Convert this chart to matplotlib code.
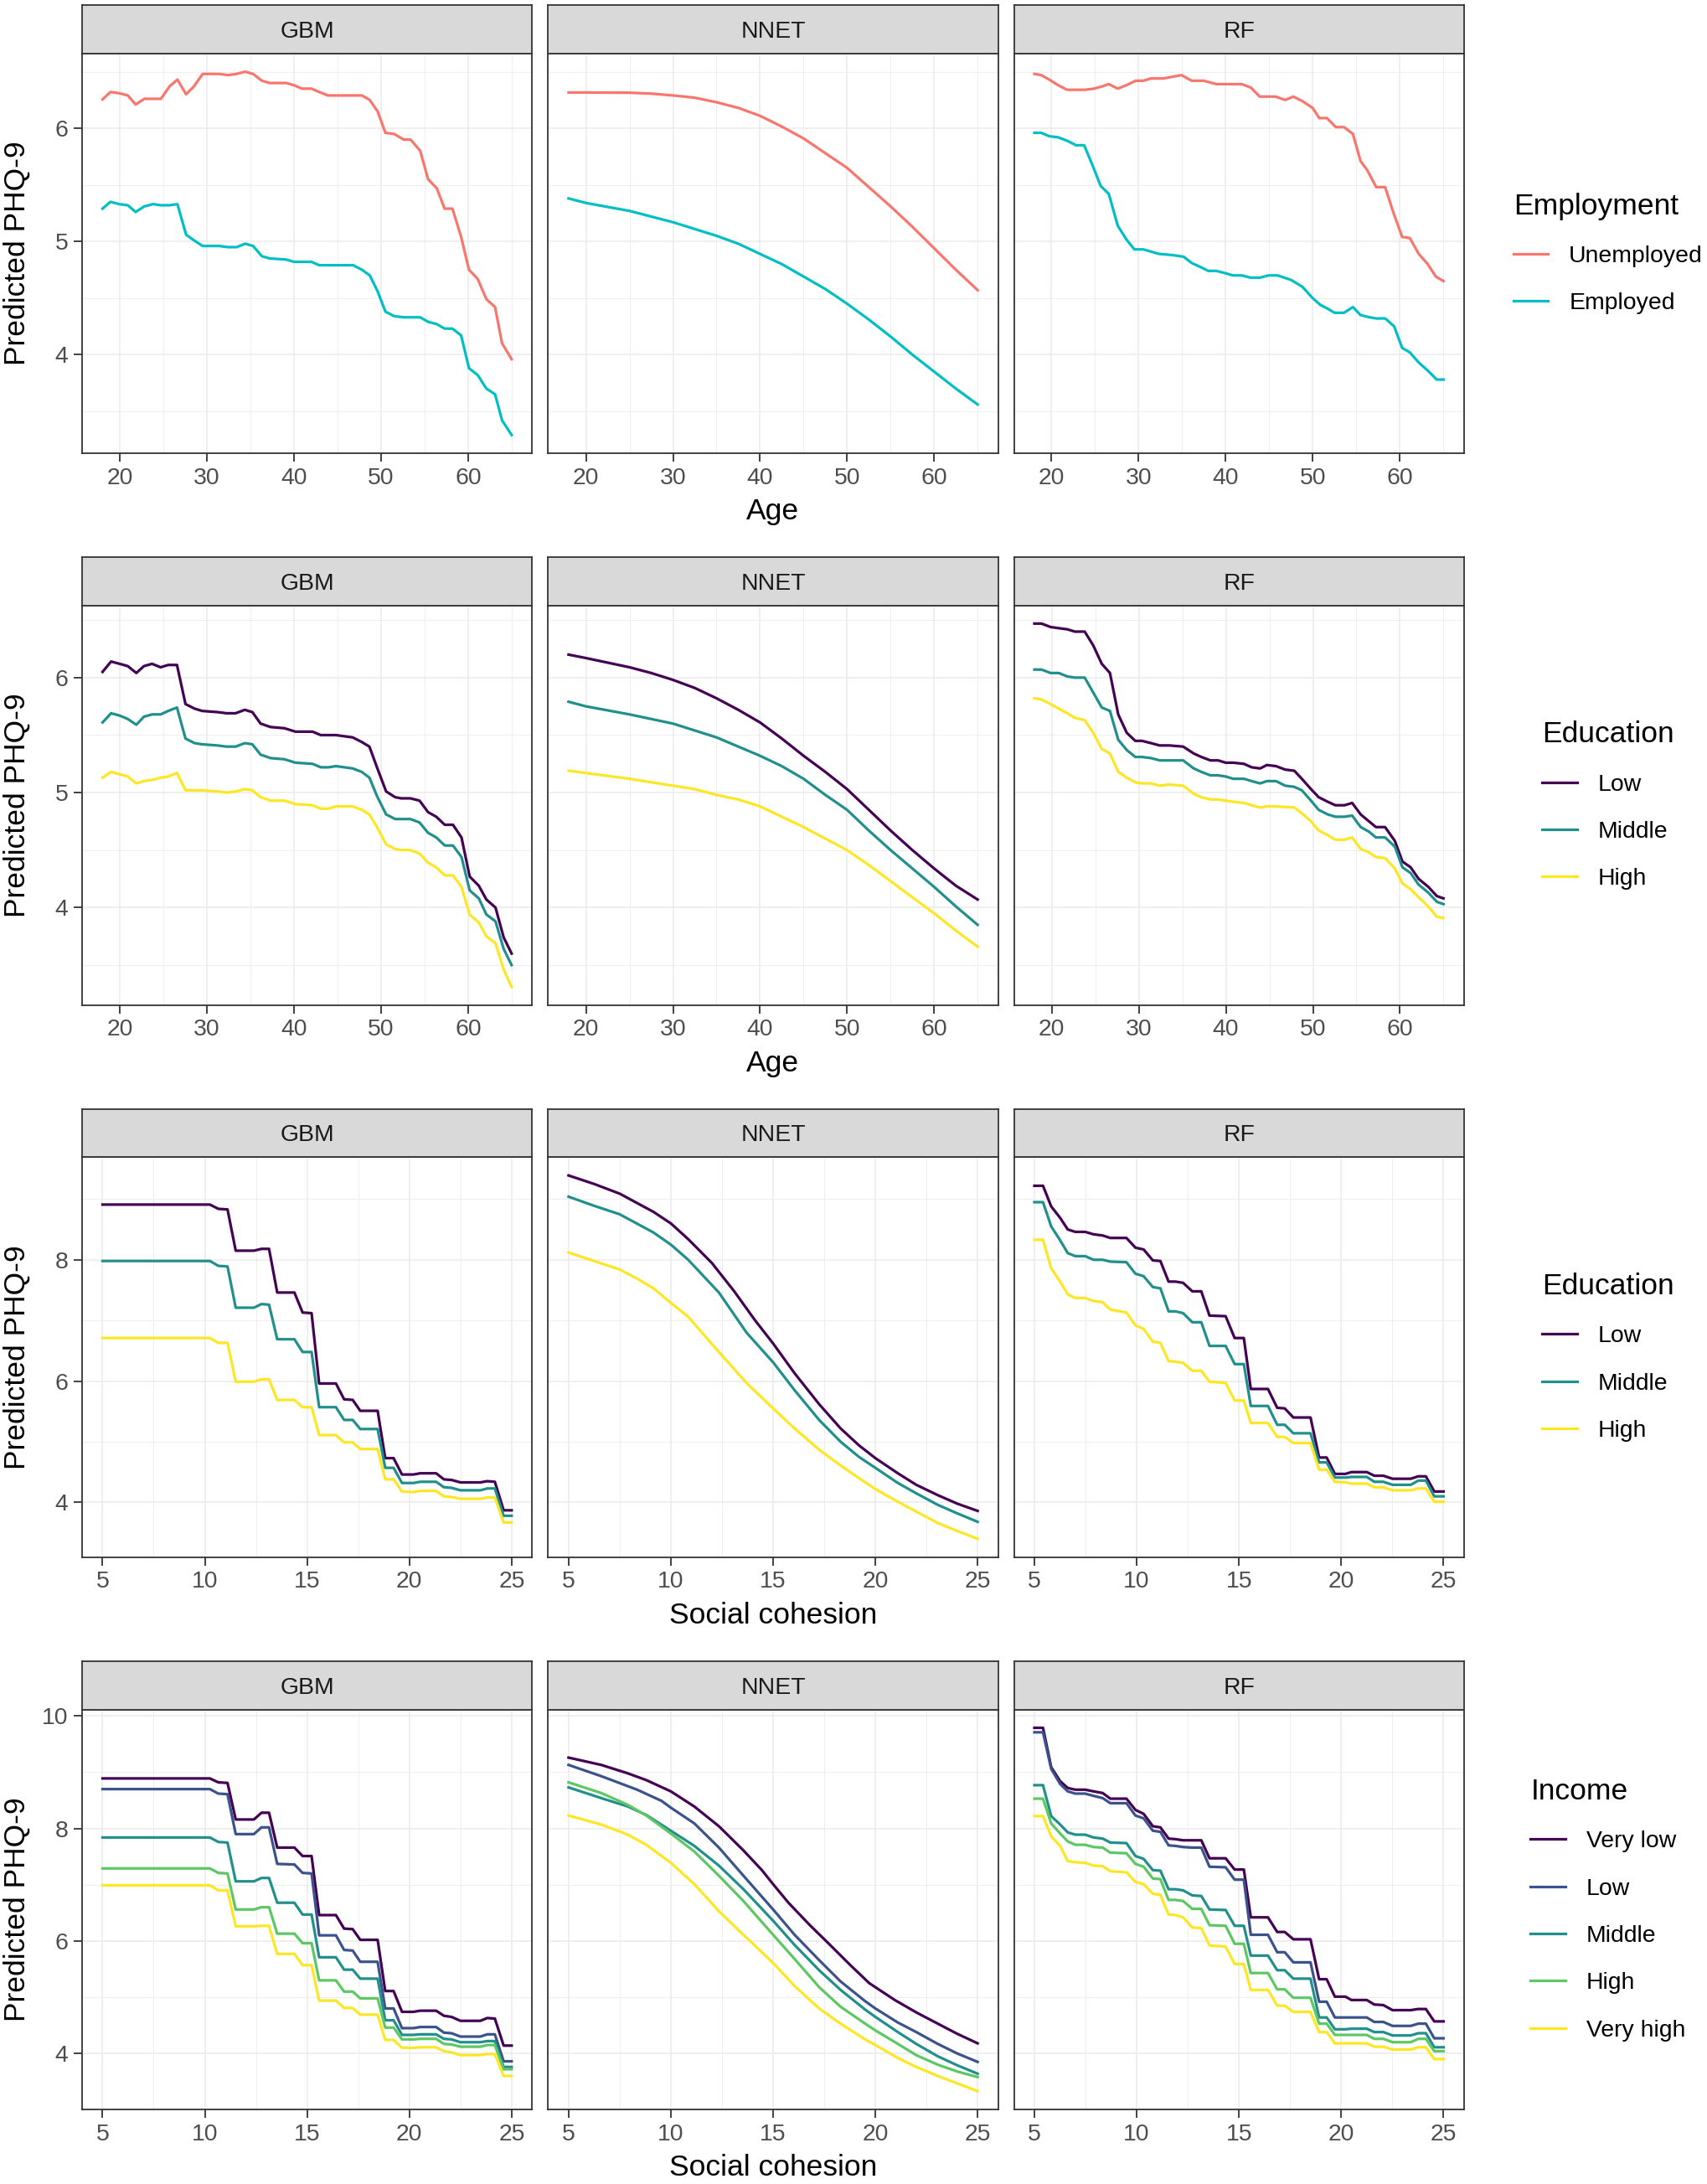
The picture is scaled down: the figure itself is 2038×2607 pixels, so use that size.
import numpy as np
import matplotlib
matplotlib.use("Agg")
import matplotlib.pyplot as plt
from matplotlib.lines import Line2D

plt.rcParams['font.family'] = ['Liberation Sans', 'DejaVu Sans']

# ---------------- data ----------------
models = ["GBM", "NNET", "RF"]

# row 1 : Age x Employment
emp_levels = ["Unemployed", "Employed"]
emp_colors = ["#F8766D", "#00BFC4"]

gbm1_age = [18.0, 18.9, 19.9, 20.9, 21.8, 22.8, 23.8, 24.7, 25.7, 26.6, 27.6, 28.5, 29.5, 31.4, 32.4,
            33.4, 34.4, 35.3, 36.3, 37.2, 39.1, 40.0, 40.9, 42.0, 42.9, 43.9, 44.9, 46.8, 47.8, 48.7,
            49.6, 50.5, 51.5, 52.6, 53.4, 54.5, 55.4, 56.4, 57.3, 58.2, 59.2, 60.1, 61.1, 62.1, 63.1,
            63.9, 65.0]
gbm1_unemployed = [6.255, 6.32, 6.31, 6.29, 6.21, 6.26, 6.26, 6.26, 6.37, 6.43, 6.30, 6.37, 6.48, 6.48,
                   6.47, 6.48, 6.50, 6.48, 6.42, 6.40, 6.40, 6.38, 6.35, 6.35, 6.32, 6.29, 6.29, 6.29,
                   6.29, 6.25, 6.15, 5.96, 5.95, 5.90, 5.90, 5.80, 5.55, 5.47, 5.29, 5.29, 5.04, 4.75,
                   4.67, 4.49, 4.42, 4.10, 3.96]
gbm1_employed = [5.29, 5.35, 5.33, 5.32, 5.26, 5.31, 5.33, 5.32, 5.32, 5.33, 5.06, 5.01, 4.96, 4.96, 4.95,
                 4.95, 4.98, 4.96, 4.87, 4.85, 4.84, 4.82, 4.82, 4.82, 4.79, 4.79, 4.79, 4.79, 4.75, 4.70,
                 4.56, 4.38, 4.34, 4.33, 4.33, 4.33, 4.29, 4.27, 4.23, 4.23, 4.17, 3.88, 3.82, 3.70, 3.65,
                 3.42, 3.29]

nnet_age = [18, 20, 25, 27.5, 30, 32.5, 35, 37.5, 40, 42.5, 45, 47.5, 50, 52.5, 55, 57.5, 60, 62.5, 65]
nnet1_unemployed = [6.316, 6.316, 6.314, 6.306, 6.29, 6.27, 6.23, 6.18, 6.11, 6.015, 5.91, 5.78, 5.65,
                    5.48, 5.31, 5.13, 4.94, 4.75, 4.57]
nnet1_employed = [5.38, 5.34, 5.27, 5.22, 5.17, 5.11, 5.05, 4.98, 4.89, 4.80, 4.69, 4.58, 4.45, 4.31,
                  4.16, 4.00, 3.85, 3.70, 3.56]

rf1_age_unemployed = [18.05, 18.82, 19.75, 20.78, 21.8, 23.86, 24.89, 25.81, 26.59, 27.61, 28.59, 29.67,
                      30.55, 31.42, 32.86, 33.89, 34.92, 36.1, 37.49, 38.93, 39.95, 41.86, 42.88, 43.91,
                      45.71, 46.84, 47.77, 48.8, 49.98, 50.75, 51.62, 52.65, 53.58, 54.61, 55.48, 56.25,
                      57.28, 58.31, 59.23, 60.26, 61.14, 62.16, 63.19, 64.12, 65.0]
rf1_unemployed = [6.48, 6.47, 6.43, 6.38, 6.34, 6.34, 6.35, 6.37, 6.39, 6.35, 6.38, 6.42, 6.42, 6.44,
                  6.44, 6.455, 6.47, 6.42, 6.42, 6.39, 6.39, 6.39, 6.36, 6.28, 6.28, 6.25, 6.28, 6.24,
                  6.18, 6.09, 6.09, 6.01, 6.01, 5.95, 5.71, 5.63, 5.48, 5.48, 5.26, 5.04, 5.03, 4.89,
                  4.80, 4.69, 4.65]
rf1_age_employed = [18.05, 18.82, 19.75, 20.78, 21.8, 22.83, 23.76, 24.63, 25.66, 26.59, 27.61, 28.59,
                    29.52, 30.55, 32.34, 33.89, 35.17, 36.1, 37.23, 38.0, 38.93, 39.95, 40.83, 41.86,
                    42.88, 43.91, 44.94, 45.97, 47.51, 48.8, 49.98, 50.86, 51.62, 52.5, 53.58, 54.61,
                    55.48, 56.51, 57.28, 58.31, 59.34, 60.26, 61.14, 62.16, 63.19, 64.22, 65.0]
rf1_employed = [5.96, 5.96, 5.93, 5.92, 5.89, 5.85, 5.85, 5.69, 5.49, 5.42, 5.14, 5.02, 4.93, 4.93, 4.89,
                4.88, 4.865, 4.81, 4.77, 4.74, 4.74, 4.72, 4.70, 4.70, 4.68, 4.68, 4.70, 4.70, 4.66, 4.60,
                4.50, 4.44, 4.41, 4.37, 4.37, 4.42, 4.35, 4.33, 4.32, 4.32, 4.25, 4.06, 4.02, 3.93, 3.86,
                3.78, 3.78]

# row 2 : Age x Education
edu_levels = ["Low", "Middle", "High"]
edu_colors = ["#440154", "#21908C", "#FDE725"]

gbm2_age = [18.0, 18.98, 19.96, 20.9, 21.88, 22.75, 23.69, 24.67, 25.54, 26.55, 27.53, 28.58, 29.45,
            31.2, 32.25, 33.29, 34.34, 35.21, 36.16, 37.31, 38.88, 40.17, 42.13, 43.07, 43.94, 44.82,
            46.74, 47.78, 48.66, 49.53, 50.58, 51.62, 52.32, 53.37, 54.42, 55.4, 56.34, 57.32, 58.26,
            59.24, 60.18, 61.23, 62.1, 63.15, 64.09, 65.0]
gbm2_low = [6.05, 6.14, 6.12, 6.10, 6.04, 6.10, 6.12, 6.09, 6.11, 6.11, 5.77, 5.73, 5.71, 5.70, 5.69,
            5.69, 5.72, 5.70, 5.60, 5.57, 5.56, 5.53, 5.53, 5.50, 5.50, 5.50, 5.48, 5.44, 5.40, 5.22,
            5.01, 4.96, 4.95, 4.95, 4.93, 4.83, 4.79, 4.72, 4.72, 4.61, 4.27, 4.19, 4.07, 4.00, 3.74, 3.60]
gbm2_middle = [5.61, 5.69, 5.67, 5.64, 5.59, 5.66, 5.68, 5.68, 5.71, 5.74, 5.47, 5.43, 5.42, 5.41, 5.40,
               5.40, 5.43, 5.42, 5.33, 5.30, 5.29, 5.26, 5.25, 5.22, 5.22, 5.23, 5.21, 5.18, 5.13, 4.97,
               4.81, 4.77, 4.77, 4.77, 4.74, 4.65, 4.61, 4.54, 4.54, 4.44, 4.15, 4.08, 3.94, 3.88, 3.64,
               3.50]
gbm2_high = [5.13, 5.18, 5.16, 5.14, 5.08, 5.10, 5.11, 5.13, 5.14, 5.17, 5.02, 5.02, 5.02, 5.01, 5.00,
             5.01, 5.03, 5.02, 4.96, 4.93, 4.93, 4.90, 4.89, 4.86, 4.86, 4.88, 4.88, 4.85, 4.81, 4.70,
             4.55, 4.51, 4.50, 4.50, 4.47, 4.39, 4.35, 4.28, 4.28, 4.18, 3.94, 3.87, 3.75, 3.69, 3.46, 3.31]

nnet2_low = [6.20, 6.17, 6.09, 6.04, 5.98, 5.91, 5.82, 5.72, 5.61, 5.47, 5.32, 5.18, 5.03, 4.85, 4.67,
             4.50, 4.34, 4.19, 4.07]
nnet2_middle = [5.79, 5.75, 5.68, 5.64, 5.60, 5.54, 5.48, 5.40, 5.32, 5.23, 5.12, 4.98, 4.85, 4.67, 4.50,
                4.34, 4.18, 4.01, 3.85]
nnet2_high = [5.19, 5.17, 5.12, 5.09, 5.06, 5.03, 4.98, 4.94, 4.88, 4.79, 4.70, 4.60, 4.50, 4.37, 4.23,
              4.09, 3.95, 3.80, 3.66]

rf2_age = [18.0, 18.81, 19.86, 20.8, 21.78, 22.66, 23.78, 24.76, 25.74, 26.68, 27.63, 28.61, 29.59, 30.36,
           31.41, 32.39, 33.51, 35.09, 36.31, 37.18, 38.23, 39.11, 39.98, 40.86, 42.08, 42.96, 43.94,
           44.71, 45.76, 46.81, 47.86, 48.73, 49.78, 50.66, 51.71, 52.58, 53.63, 54.51, 55.49, 56.44,
           57.24, 58.29, 59.41, 60.29, 61.23, 62.14, 63.26, 64.24, 65.0]
rf2_low = [6.47, 6.47, 6.44, 6.43, 6.42, 6.40, 6.40, 6.28, 6.12, 6.04, 5.68, 5.52, 5.45, 5.45, 5.43,
           5.41, 5.41, 5.40, 5.34, 5.31, 5.28, 5.28, 5.26, 5.26, 5.25, 5.22, 5.21, 5.24, 5.23, 5.20,
           5.19, 5.12, 5.03, 4.96, 4.92, 4.89, 4.89, 4.91, 4.81, 4.75, 4.70, 4.70, 4.58, 4.40, 4.35,
           4.25, 4.18, 4.10, 4.08]
rf2_middle = [6.07, 6.07, 6.04, 6.04, 6.01, 6.00, 6.00, 5.87, 5.74, 5.71, 5.46, 5.37, 5.31, 5.31, 5.30,
              5.28, 5.28, 5.28, 5.21, 5.18, 5.15, 5.15, 5.14, 5.12, 5.12, 5.10, 5.08, 5.10, 5.10, 5.06,
              5.05, 5.02, 4.93, 4.85, 4.81, 4.79, 4.79, 4.80, 4.70, 4.66, 4.61, 4.61, 4.53, 4.35, 4.30,
              4.20, 4.13, 4.05, 4.03]
rf2_high = [5.82, 5.81, 5.77, 5.73, 5.69, 5.65, 5.63, 5.52, 5.38, 5.34, 5.18, 5.13, 5.09, 5.08, 5.08,
            5.06, 5.07, 5.06, 4.99, 4.96, 4.94, 4.94, 4.93, 4.92, 4.91, 4.89, 4.87, 4.88, 4.88, 4.875,
            4.87, 4.82, 4.75, 4.67, 4.63, 4.59, 4.59, 4.61, 4.51, 4.48, 4.44, 4.43, 4.34, 4.21, 4.16,
            4.09, 4.01, 3.92, 3.91]

# row 3 : Social cohesion x Education
gbm_sc = [5.0, 10.25, 10.66, 11.11, 11.51, 12.4, 12.77, 13.14, 13.54, 14.38, 14.78, 15.22, 15.59, 16.41,
          16.81, 17.23, 17.6, 18.45, 18.82, 19.23, 19.64, 20.2, 20.53, 21.31, 21.69, 22.06, 22.5, 23.47,
          23.81, 24.18, 24.61, 25.0]
gbm3_low = [8.91, 8.91, 8.84, 8.83, 8.15, 8.15, 8.18, 8.18, 7.46, 7.46, 7.13, 7.12, 5.96, 5.96, 5.70,
            5.69, 5.51, 5.51, 4.73, 4.73, 4.46, 4.46, 4.48, 4.48, 4.38, 4.37, 4.33, 4.33, 4.35, 4.34,
            3.87, 3.87]
gbm3_middle = [7.98, 7.98, 7.90, 7.89, 7.21, 7.21, 7.27, 7.26, 6.69, 6.69, 6.48, 6.48, 5.57, 5.57, 5.36,
               5.36, 5.21, 5.21, 4.57, 4.57, 4.32, 4.32, 4.34, 4.34, 4.25, 4.24, 4.20, 4.20, 4.23, 4.23,
               3.78, 3.78]
gbm3_high = [6.71, 6.71, 6.63, 6.63, 5.99, 5.99, 6.03, 6.03, 5.69, 5.69, 5.57, 5.57, 5.11, 5.11, 4.99,
             4.99, 4.88, 4.88, 4.38, 4.38, 4.18, 4.17, 4.19, 4.19, 4.10, 4.09, 4.06, 4.06, 4.08, 4.08,
             3.67, 3.67]

nnet3_sc_low = [5, 6.25, 7.5, 9.15, 10, 10.85, 12, 13.1, 14.1, 15, 16.05, 17.25, 18.3, 19.2, 20, 21.1,
                22, 23.05, 24, 25]
nnet3_low = [9.39, 9.25, 9.09, 8.79, 8.60, 8.34, 7.95, 7.48, 7.01, 6.62, 6.13, 5.62, 5.22, 4.94, 4.73,
             4.48, 4.29, 4.12, 3.98, 3.86]
nnet3_sc_middle = [5, 6.25, 7.5, 9.15, 10, 10.85, 12.35, 13.7, 15, 16.05, 17.25, 18.3, 19.2, 20, 21.1,
                   22, 23.05, 24, 25]
nnet3_middle = [9.04, 8.89, 8.75, 8.45, 8.25, 8.00, 7.46, 6.80, 6.31, 5.85, 5.36, 5.00, 4.75, 4.57, 4.32,
                4.15, 3.96, 3.82, 3.68]
nnet3_sc_high = [5, 6.25, 7.5, 8.35, 9.15, 10, 10.85, 12.35, 13.7, 15, 16.05, 17.25, 18.3, 19.2, 20,
                 21.1, 22, 23.05, 24, 25]
nnet3_high = [8.12, 7.98, 7.84, 7.69, 7.53, 7.29, 7.06, 6.48, 5.97, 5.55, 5.22, 4.87, 4.61, 4.40, 4.22,
              4.01, 3.85, 3.66, 3.53, 3.40]

rf_sc = [5.0, 5.42, 5.82, 6.26, 6.63, 7.0, 7.48, 7.89, 8.34, 8.71, 9.5, 9.94, 10.34, 10.79, 11.16, 11.56,
         11.9, 12.27, 12.72, 13.16, 13.56, 14.35, 14.79, 15.24, 15.58, 16.42, 16.87, 17.24, 17.66, 18.5,
         18.92, 19.29, 19.69, 20.21, 20.5, 21.25, 21.62, 22.06, 22.51, 23.4, 23.77, 24.14, 24.55, 25.0]
rf3_low = [9.22, 9.22, 8.88, 8.69, 8.50, 8.46, 8.46, 8.42, 8.40, 8.36, 8.36, 8.20, 8.17, 7.99, 7.98, 7.64,
           7.64, 7.62, 7.48, 7.48, 7.08, 7.07, 6.71, 6.71, 5.87, 5.87, 5.56, 5.55, 5.40, 5.40, 4.74, 4.74,
           4.47, 4.47, 4.50, 4.50, 4.44, 4.44, 4.39, 4.39, 4.43, 4.43, 4.18, 4.18]
rf3_middle = [8.95, 8.95, 8.55, 8.32, 8.11, 8.06, 8.06, 8.00, 8.00, 7.97, 7.96, 7.77, 7.73, 7.55, 7.53,
              7.15, 7.15, 7.12, 6.97, 6.97, 6.58, 6.58, 6.28, 6.28, 5.59, 5.59, 5.28, 5.28, 5.14, 5.14,
              4.66, 4.66, 4.41, 4.41, 4.42, 4.42, 4.34, 4.34, 4.29, 4.29, 4.36, 4.36, 4.10, 4.10]
rf3_high = [8.33, 8.33, 7.86, 7.64, 7.43, 7.37, 7.37, 7.32, 7.30, 7.18, 7.13, 6.92, 6.86, 6.65, 6.63,
            6.33, 6.32, 6.30, 6.17, 6.17, 5.99, 5.97, 5.68, 5.68, 5.31, 5.31, 5.08, 5.08, 4.98, 4.98,
            4.54, 4.54, 4.34, 4.33, 4.31, 4.31, 4.25, 4.25, 4.20, 4.20, 4.23, 4.23, 4.01, 4.01]

# row 4 : Social cohesion x Income
inc_levels = ["Very low", "Low", "Middle", "High", "Very high"]
inc_colors = ["#440154", "#3B528B", "#21908C", "#5DC863", "#FDE725"]

gbm4_very_low = [8.89, 8.89, 8.82, 8.81, 8.16, 8.16, 8.28, 8.28, 7.66, 7.66, 7.51, 7.51, 6.46, 6.46, 6.22,
                 6.21, 6.02, 6.02, 5.11, 5.11, 4.74, 4.74, 4.76, 4.76, 4.67, 4.65, 4.58, 4.58, 4.63, 4.62,
                 4.14, 4.14]
gbm4_low = [8.70, 8.70, 8.62, 8.61, 7.90, 7.90, 8.02, 8.02, 7.37, 7.36, 7.21, 7.20, 6.10, 6.10, 5.84, 5.83,
            5.63, 5.63, 4.80, 4.80, 4.45, 4.45, 4.47, 4.47, 4.37, 4.36, 4.30, 4.30, 4.34, 4.34, 3.86, 3.86]
gbm4_middle = [7.84, 7.84, 7.76, 7.75, 7.06, 7.06, 7.12, 7.12, 6.68, 6.68, 6.47, 6.47, 5.71, 5.71, 5.49,
               5.49, 5.33, 5.33, 4.59, 4.59, 4.33, 4.33, 4.34, 4.34, 4.26, 4.25, 4.20, 4.20, 4.22, 4.22,
               3.76, 3.76]
gbm4_high = [7.29, 7.29, 7.21, 7.20, 6.56, 6.56, 6.60, 6.60, 6.13, 6.13, 5.96, 5.96, 5.30, 5.30, 5.10,
             5.10, 4.98, 4.98, 4.46, 4.46, 4.25, 4.25, 4.26, 4.26, 4.17, 4.16, 4.12, 4.12, 4.15, 4.15,
             3.72, 3.72]
gbm4_very_high = [6.99, 6.99, 6.90, 6.90, 6.26, 6.26, 6.27, 6.27, 5.77, 5.77, 5.57, 5.57, 4.94, 4.94, 4.81,
                  4.81, 4.69, 4.69, 4.24, 4.24, 4.10, 4.10, 4.11, 4.11, 4.04, 4.02, 3.97, 3.97, 3.99,
                  3.99, 3.60, 3.60]

nnet4_sc_very_low = [5, 6.6, 7.9, 8.8, 10, 11.15, 12.35, 13.55, 14.45, 15, 15.75, 16.8, 17.7, 18.75, 19.7,
                     20.95, 22, 23.05, 24, 25]
nnet4_very_low = [9.26, 9.13, 8.98, 8.86, 8.66, 8.39, 8.04, 7.61, 7.26, 7.01, 6.68, 6.28, 5.96, 5.58,
                  5.25, 4.95, 4.73, 4.53, 4.35, 4.18]
nnet4_sc_low = [5, 6.6, 8.35, 9.55, 10, 11.15, 12.35, 13.55, 15, 16.05, 17.25, 18.3, 19.5, 20, 21.1, 22,
                23.05, 24, 25]
nnet4_low = [9.13, 8.93, 8.69, 8.49, 8.37, 8.09, 7.66, 7.16, 6.56, 6.11, 5.66, 5.28, 4.93, 4.80, 4.55,
             4.38, 4.17, 4.00, 3.85]
nnet4_sc_mid = [5, 6.6, 7.9, 8.8, 10, 11.15, 12.35, 13.55, 15, 16.05, 17.25, 18.3, 19.5, 20, 21.1, 22,
                23.05, 24, 25]
nnet4_middle = [8.73, 8.54, 8.39, 8.24, 7.96, 7.69, 7.34, 6.92, 6.36, 5.93, 5.48, 5.13, 4.78, 4.65, 4.38,
                4.17, 3.95, 3.79, 3.64]
nnet4_high = [8.82, 8.63, 8.42, 8.23, 7.91, 7.59, 7.16, 6.71, 6.11, 5.68, 5.18, 4.83, 4.53, 4.41, 4.17,
              3.97, 3.80, 3.68, 3.58]
nnet4_sc_very_high = [5, 6.6, 7.9, 8.8, 9.55, 10, 11.15, 12.35, 13.55, 15, 16.05, 17.25, 18.3, 19.5, 20,
                      21.1, 22, 23.05, 24, 25]
nnet4_very_high = [8.23, 8.07, 7.89, 7.71, 7.51, 7.39, 7.01, 6.53, 6.11, 5.61, 5.20, 4.80, 4.53, 4.25,
                   4.15, 3.92, 3.76, 3.60, 3.47, 3.33]

rf4_very_low = [9.79, 9.79, 9.09, 8.84, 8.72, 8.69, 8.69, 8.66, 8.63, 8.53, 8.53, 8.33, 8.26, 8.04, 8.02,
                7.82, 7.81, 7.79, 7.79, 7.79, 7.47, 7.47, 7.27, 7.27, 6.42, 6.42, 6.16, 6.16, 6.03, 6.03,
                5.32, 5.32, 5.01, 5.01, 4.95, 4.95, 4.87, 4.86, 4.77, 4.77, 4.79, 4.79, 4.57, 4.57]
rf4_low = [9.71, 9.71, 9.06, 8.79, 8.66, 8.62, 8.62, 8.58, 8.54, 8.45, 8.45, 8.23, 8.18, 7.96, 7.94, 7.70,
           7.69, 7.67, 7.66, 7.66, 7.32, 7.31, 7.09, 7.09, 6.11, 6.11, 5.80, 5.80, 5.62, 5.62, 4.92, 4.92,
           4.64, 4.64, 4.64, 4.64, 4.56, 4.56, 4.49, 4.49, 4.53, 4.53, 4.27, 4.27]
rf4_middle = [8.77, 8.77, 8.22, 8.07, 7.93, 7.89, 7.89, 7.84, 7.82, 7.75, 7.74, 7.51, 7.46, 7.26, 7.25,
              6.92, 6.92, 6.90, 6.81, 6.80, 6.56, 6.55, 6.27, 6.27, 5.74, 5.74, 5.48, 5.48, 5.33, 5.33,
              4.64, 4.64, 4.43, 4.43, 4.44, 4.44, 4.38, 4.38, 4.32, 4.32, 4.36, 4.36, 4.11, 4.11]
rf4_high = [8.53, 8.53, 8.09, 7.91, 7.77, 7.71, 7.71, 7.67, 7.66, 7.57, 7.56, 7.37, 7.32, 7.11, 7.10, 6.73,
            6.73, 6.71, 6.57, 6.57, 6.28, 6.27, 5.95, 5.95, 5.43, 5.43, 5.14, 5.14, 4.99, 4.99, 4.53, 4.53,
            4.33, 4.33, 4.33, 4.33, 4.26, 4.26, 4.20, 4.20, 4.26, 4.26, 4.04, 4.04]
rf4_very_high = [8.22, 8.22, 7.86, 7.69, 7.42, 7.40, 7.39, 7.34, 7.33, 7.24, 7.22, 7.05, 7.01, 6.84, 6.82,
                 6.47, 6.46, 6.42, 6.24, 6.23, 5.92, 5.90, 5.59, 5.59, 5.13, 5.13, 4.85, 4.85, 4.74, 4.74,
                 4.38, 4.38, 4.18, 4.18, 4.18, 4.18, 4.12, 4.12, 4.07, 4.07, 4.11, 4.11, 3.90, 3.90]

# each row: (legend title, levels, colours, x label, x ticks, x minor, y ticks, y minor, panels)
rows = [
    ("Employment", emp_levels, emp_colors, "Age", [20, 30, 40, 50, 60], [25, 35, 45, 55, 65],
     [4, 5, 6], [3.5, 4.5, 5.5, 6.5],
     [[(gbm1_age, gbm1_unemployed), (gbm1_age, gbm1_employed)],
      [(nnet_age, nnet1_unemployed), (nnet_age, nnet1_employed)],
      [(rf1_age_unemployed, rf1_unemployed), (rf1_age_employed, rf1_employed)]]),
    ("Education", edu_levels, edu_colors, "Age", [20, 30, 40, 50, 60], [25, 35, 45, 55, 65],
     [4, 5, 6], [3.5, 4.5, 5.5, 6.5],
     [[(gbm2_age, gbm2_low), (gbm2_age, gbm2_middle), (gbm2_age, gbm2_high)],
      [(nnet_age, nnet2_low), (nnet_age, nnet2_middle), (nnet_age, nnet2_high)],
      [(rf2_age, rf2_low), (rf2_age, rf2_middle), (rf2_age, rf2_high)]]),
    ("Education", edu_levels, edu_colors, "Social cohesion", [5, 10, 15, 20, 25], [7.5, 12.5, 17.5, 22.5],
     [4, 6, 8], [5, 7, 9],
     [[(gbm_sc, gbm3_low), (gbm_sc, gbm3_middle), (gbm_sc, gbm3_high)],
      [(nnet3_sc_low, nnet3_low), (nnet3_sc_middle, nnet3_middle), (nnet3_sc_high, nnet3_high)],
      [(rf_sc, rf3_low), (rf_sc, rf3_middle), (rf_sc, rf3_high)]]),
    ("Income", inc_levels, inc_colors, "Social cohesion", [5, 10, 15, 20, 25], [7.5, 12.5, 17.5, 22.5],
     [4, 6, 8, 10], [5, 7, 9],
     [[(gbm_sc, gbm4_very_low), (gbm_sc, gbm4_low), (gbm_sc, gbm4_middle), (gbm_sc, gbm4_high),
       (gbm_sc, gbm4_very_high)],
      [(nnet4_sc_very_low, nnet4_very_low), (nnet4_sc_low, nnet4_low), (nnet4_sc_mid, nnet4_middle),
       (nnet4_sc_mid, nnet4_high), (nnet4_sc_very_high, nnet4_very_high)],
      [(rf_sc, rf4_very_low), (rf_sc, rf4_low), (rf_sc, rf4_middle), (rf_sc, rf4_high),
       (rf_sc, rf4_very_high)]]),
]

# ---------------- layout ----------------
W, H = 2038, 2607
lefts = [0.0481, 0.3211, 0.5940]
pw = 0.2636
bottoms = [0.7925, 0.5398, 0.2871, 0.0342]
ph = 0.1830
sh = 0.0222

small = 20.4
big = 25.5
dark = "#333333"
lw_data = 2.3

fig = plt.figure(figsize=(W / 100, H / 100), dpi=100)

for r, (ltitle, levels, colors, xlab, xt, xtm, yt, ytm, panels) in enumerate(rows):
    b = bottoms[r]
    first = None
    for c in range(3):
        ax = fig.add_axes([lefts[c], b, pw, ph], sharey=first)
        if first is None:
            first = ax
        for (xs, ys), col in zip(panels[c], colors):
            ax.plot(xs, ys, color=col, lw=lw_data, solid_joinstyle="round")
        ax.margins(x=0.05, y=0.05)
        ax.set_xticks(xt)
        ax.set_xticks(xtm, minor=True)
        ax.set_yticks(yt)
        ax.set_yticks(ytm, minor=True)
        ax.grid(which="major", color="#EBEBEB", lw=1.1)
        ax.grid(which="minor", color="#EBEBEB", lw=0.6)
        ax.set_axisbelow(True)
        for s in ax.spines.values():
            s.set_color(dark)
            s.set_linewidth(1.3)
        ax.tick_params(which="major", length=7, width=1.3, color=dark,
                       labelsize=small, labelcolor="#4D4D4D", pad=5)
        ax.tick_params(which="minor", length=0)
        if c > 0:
            ax.tick_params(axis="y", left=False, labelleft=False)

        # facet strip
        st = fig.add_axes([lefts[c], b + ph, pw, sh])
        st.set_facecolor("#D9D9D9")
        st.set_xticks([])
        st.set_yticks([])
        for s in st.spines.values():
            s.set_color(dark)
            s.set_linewidth(1.3)
        st.text(0.5, 0.45, models[c], ha="center", va="center", fontsize=small,
                color="#1A1A1A", transform=st.transAxes)

    # axis titles
    fig.text(0.0098, b + ph / 2, "Predicted PHQ-9", rotation=90, ha="center", va="center",
             fontsize=big, color="black")
    fig.text((lefts[0] + lefts[2] + pw) / 2, b - 70 / H, xlab, ha="center", va="center",
             fontsize=big, color="black")

    # legend
    handles = [Line2D([], [], color=col, lw=lw_data) for col in colors]
    fig.legend(handles, levels, loc="center", bbox_to_anchor=(0.942, b + ph / 2), frameon=False,
               title=ltitle, title_fontsize=big, fontsize=small, handlelength=1.47,
               handletextpad=0.88, labelspacing=1.07, borderpad=0, alignment="left")

fig.savefig("out.png", dpi=100, facecolor="white")
